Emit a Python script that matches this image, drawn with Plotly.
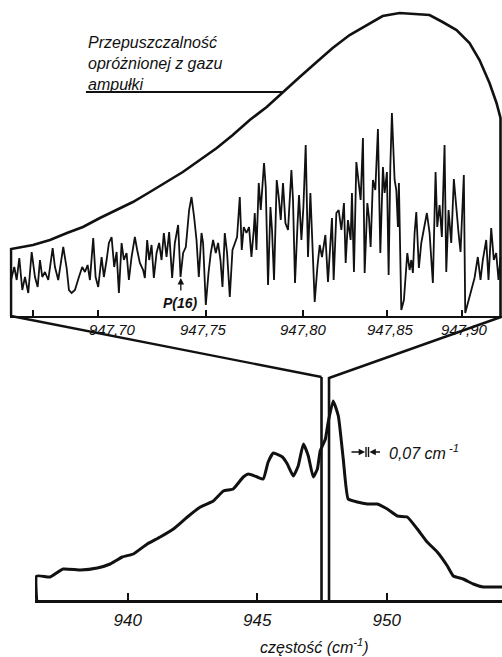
import plotly.graph_objects as go

W, H = 502, 657

# ---------------- data ----------------
# Upper panel: high-resolution scan (x = scan position, arbitrary units; y = signal, arbitrary units)
env_x = [0, 0, 22, 39, 56, 72, 89, 106, 122, 139, 156, 172, 189, 206, 222, 239, 256, 272,
         289, 306, 322, 339, 356, 372, 389, 406, 419, 432, 446, 459, 469, 479, 486, 490, 490]
env_y = [0, 67, 71, 76, 83, 89, 98, 106, 114, 124, 134, 144, 156, 168, 181, 196, 209, 224,
         239, 254, 268, 281, 291, 300, 303, 302, 301, 294, 286, 273, 256, 233, 213, 198, 0]

scan_x = [0, 3.3, 5.7, 8.3, 11.3, 14, 17.3, 20.7, 24, 26.7, 29, 31.3, 34, 37.3, 41.7, 44, 47.3,
          52.3, 55.7, 58, 60.7, 64, 68, 71.3, 74, 76.7, 79, 82.3, 84.7, 87.3, 90.7, 93, 95.7,
          98, 100.7, 103.3, 105.7, 108, 110.7, 113, 115.7, 118, 120.7,
          124, 126.3, 129, 132.3, 134, 136.3, 138.3, 140.7, 143, 145.7, 148.3, 150.7, 153,
          155.7, 158.3, 161.3, 164, 167.3, 169.7, 172.3, 175, 178.3, 180.7, 183.3, 185.7, 188,
          190.7, 192.3, 195, 197.7, 200, 202.3, 205, 207.3, 209.7, 211.7, 214, 216.3, 219,
          221.7, 224, 226.3, 229, 231, 233, 235.7, 238.3, 240.7, 243,
          244, 245.7, 248, 250, 253.3, 255, 257.3, 259.7, 261.3, 263.3, 266, 268, 270, 272.3,
          274.7, 277.3, 280.7, 282.3, 284.3, 286.7, 288.3, 290.7, 292.7, 295, 297.3, 299.7,
          301.3, 304, 306.7, 309, 311.3, 314.7, 317.3, 321.3, 323, 325.7, 328, 330.7, 333.3,
          335, 337.3, 340, 341.3, 343.3, 345.7, 348, 350, 352.3, 354, 356.7, 358.3, 360,
          362.3, 364.7,
          367.3, 369.7, 372.3, 374, 376.3, 378, 379.7, 381.3, 384, 385.7, 387.3, 388.3, 390.7,
          393.3, 396.7, 399, 400.7, 402.3, 404, 405.7, 408.3, 410.7, 413.3, 416.3, 419, 422.3,
          425, 426.7, 429, 431.3, 434, 435.7, 438, 440.7, 443.3, 445.7, 448, 450, 453.3, 454.7,
          459, 464, 467.3, 470, 472.3, 475.7, 478, 480.7, 483.3, 485.7, 488, 490]
scan_y = [36, 49, 36, 58, 26, 39, 23, 64, 39, 29, 56, 39, 44, 36, 68, 49, 36,
          69, 48, 26, 23, 26, 39, 49, 44, 51, 36, 78, 39, 29, 59, 39, 56,
          73, 79, 49, 64, 23, 73, 56, 63, 36, 59,
          79, 66, 53, 46, 38, 76, 56, 71, 38, 63, 73, 56, 83,
          59, 84, 38, 73, 91, 39, 63, 69, 106, 119, 99, 76, 39,
          83, 73, 11, 43, 63, 76, 63, 73, 56, 29, 83, 63, 19,
          66, 73, 79, 119, 66, 89, 83, 89, 59, 86,
          103, 66, 133, 106, 153, 129, 31, 109, 86, 36, 136, 119, 96, 133,
          93, 86, 146, 116, 33, 89, 121, 76, 109, 171, 59, 123,
          76, 14, 49, 71, 59, 81, 34, 98, 36, 103, 106, 86, 113,
          53, 96, 76, 123, 44, 154, 136, 116, 178, 43, 113, 99, 69,
          136, 126,
          187, 63, 149, 123, 144, 41, 149, 203, 136, 126, 89, 133, 6,
          16, 63, 46, 56, 43, 83, 104, 48, 73, 86, 103, 83, 33,
          144, 89, 111, 79, 171, 44, 106, 73, 137, 106, 83, 64, 141, 3,
          19, 38, 59, 36, 56, 76, 36, 88, 56, 63, 36, 59]

# frequency markers on the upper scan (position on scan, label)
marker_pos = [22, 87, 195, 292, 376, 451]
label_pos = [102, 193, 293, 380, 454]
marker_labels = ["947,70", "947,75", "947,80", "947,85", "947,90"]
p16_pos = 170

# Lower panel: survey spectrum
freq = [936.48, 936.48, 937.0, 937.5, 938.17, 938.82, 939.32, 939.79, 940.21, 940.75, 941.25,
        941.76, 942.3, 942.8, 943.3, 943.69, 944.07, 944.46, 944.65, 945.0, 945.23, 945.42,
        945.62, 945.97, 946.16, 946.39, 946.58, 946.78, 946.97, 947.16, 947.32, 947.43,
        947.63, 947.74, 947.93, 948.13, 948.32, 948.51, 948.86, 949.25, 949.63, 950.02,
        950.41, 950.79, 951.18, 951.56, 951.95, 952.34, 952.57, 952.95, 953.34, 953.73,
        954.11, 954.45]
signal = [0, 24, 23, 31, 30, 32, 36, 43, 46, 56, 63,
          71, 83, 93, 99, 109, 111, 123, 126, 123, 121, 138,
          147, 143, 136, 124, 134, 156, 144, 123, 131, 149,
          161, 178, 199, 184, 141, 101, 98, 96, 96, 91,
          84, 83, 71, 58, 48, 34, 24, 21, 16, 13,
          13, 13]
freq_ticks = [940, 945, 950]
freq_labels = ["940", "945", "950"]
window = [947.48, 947.77]   # scanned interval shown in the upper panel
window_top = 223

# ---------------- figure ----------------
def px(x):
    return x / W

def py(y):
    return 1 - y / H

FONT = "Liberation Sans"
INK = "#111111"

fig = go.Figure()
fig.add_trace(go.Scatter(x=env_x, y=env_y, mode="lines", xaxis="x", yaxis="y",
                         line=dict(color=INK, width=2.6), hoverinfo="skip"))
fig.add_trace(go.Scatter(x=scan_x, y=scan_y, mode="lines", xaxis="x", yaxis="y",
                         line=dict(color=INK, width=1.8), hoverinfo="skip"))
fig.add_trace(go.Scatter(x=freq, y=signal, mode="lines", xaxis="x2", yaxis="y2",
                         line=dict(color=INK, width=3, shape="spline", smoothing=0.4),
                         hoverinfo="skip"))

shapes = []
# window lines in the lower panel
for wx in window:
    shapes.append(dict(type="line", xref="x2", yref="y2", x0=wx, x1=wx, y0=0, y1=window_top,
                       line=dict(color=INK, width=2.6)))
# connector lines (decoration)
shapes.append(dict(type="line", xref="paper", yref="paper", x0=px(11), y0=py(316),
                   x1=px(321.5), y1=py(377), line=dict(color=INK, width=2.4)))
shapes.append(dict(type="line", xref="paper", yref="paper", x0=px(329), y0=py(378),
                   x1=px(501), y1=py(317), line=dict(color=INK, width=2.4)))
# leader line under label
shapes.append(dict(type="line", xref="x", yref="y", x0=75, x1=272, y0=224, y1=224,
                   line=dict(color=INK, width=1.8)))
# resolution marker bars
for bx in (366, 368.5):
    shapes.append(dict(type="line", xref="paper", yref="paper", x0=px(bx), x1=px(bx),
                       y0=py(447), y1=py(457), line=dict(color=INK, width=1.4)))

annotations = []
for lp, lt in zip(label_pos, marker_labels):
    annotations.append(dict(x=lp, y=py(329), xref="x", yref="paper", text="<i>" + lt + "</i>",
                            showarrow=False, font=dict(family=FONT, size=15, color=INK)))
annotations.append(dict(x=75, y=py(32), xref="x", yref="paper", xanchor="left", yanchor="top",
                        align="left", showarrow=False,
                        text="<i>Przepuszczalność<br>opróżnionej z gazu<br>ampułki</i>",
                        font=dict(family=FONT, size=16, color=INK)))
annotations.append(dict(x=p16_pos, y=py(303), xref="x", yref="paper", text="<b><i>P(16)</i></b>",
                        showarrow=False, font=dict(family=FONT, size=14, color=INK)))
annotations.append(dict(x=p16_pos, y=py(278), xref="x", yref="paper", ax=0, ay=14, text="",
                        showarrow=True, arrowhead=2, arrowsize=1, arrowwidth=1.3, arrowcolor=INK))
annotations.append(dict(x=px(365), y=py(452), xref="paper", yref="paper", ax=-15, ay=0, text="",
                        showarrow=True, arrowhead=2, arrowsize=0.9, arrowwidth=1.4, arrowcolor=INK))
annotations.append(dict(x=px(369.5), y=py(452), xref="paper", yref="paper", ax=12, ay=0, text="",
                        showarrow=True, arrowhead=2, arrowsize=0.9, arrowwidth=1.4, arrowcolor=INK))
annotations.append(dict(x=px(387), y=py(464), xref="paper", yref="paper", xanchor="left",
                        showarrow=False, text="<i>0,07 cm<sup> -1</sup></i>",
                        font=dict(family=FONT, size=16, color=INK)))
annotations.append(dict(x=px(371), y=py(658), xref="paper", yref="paper", showarrow=False,
                        text="<i>częstość (cm<sup>-1</sup>)</i>",
                        font=dict(family=FONT, size=16, color=INK)))

fig.update_layout(
    width=W, height=H, margin=dict(l=0, r=0, t=0, b=0),
    paper_bgcolor="white", plot_bgcolor="rgba(0,0,0,0)", showlegend=False,
    font=dict(family=FONT, color=INK),
    xaxis=dict(domain=[px(9.5), 1], range=[-1.5, 491.5], showgrid=False, zeroline=False,
               showline=True, linecolor=INK, linewidth=2.4, ticks="inside", ticklen=6,
               tickwidth=1.5, tickcolor=INK, tickvals=marker_pos, showticklabels=False,
               anchor="y"),
    yaxis=dict(domain=[py(316), 1], range=[0, 316], visible=False, anchor="x"),
    xaxis2=dict(domain=[px(35.1), 1], range=[936.42, 954.45], showgrid=False, zeroline=False,
                showline=True, linecolor=INK, linewidth=2.6, ticks="inside", ticklen=7,
                tickwidth=1.5, tickcolor=INK, tickvals=freq_ticks,
                ticktext=["<i>" + t + "</i>" for t in freq_labels],
                tickfont=dict(family=FONT, size=17, color=INK), ticklabelstandoff=3,
                anchor="y2"),
    yaxis2=dict(domain=[py(600), py(330)], range=[0, 270], visible=False, anchor="x2"),
    shapes=shapes, annotations=annotations,
)

fig.write_html("out.html")
